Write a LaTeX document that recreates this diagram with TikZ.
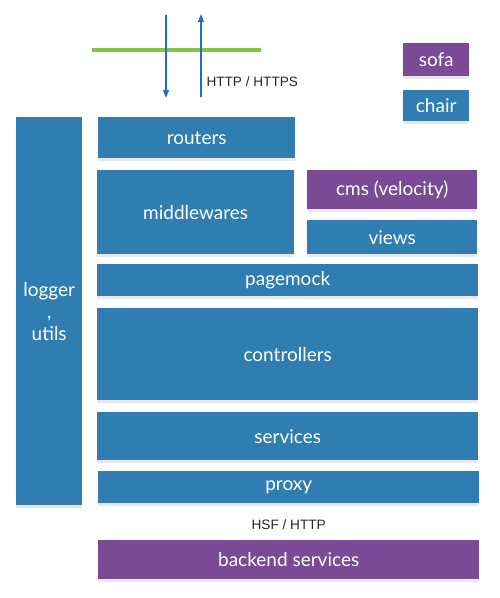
\documentclass[tikz,border=0pt]{standalone}
\usepackage{fontspec}
\setmainfont{Lato}
\newfontfamily\labelfont{Liberation Sans}
\usepackage{tikz}
\usetikzlibrary{arrows.meta, positioning, shadows}
\usepackage{xcolor}
\definecolor{layerBlue}{HTML}{2F7DB1}
\definecolor{layerPurple}{HTML}{7A4A94}
\definecolor{wireBlue}{HTML}{1F6EC2}
\definecolor{fenceGreen}{HTML}{82C343}

\tikzset{
  layer/.style={fill=layerBlue, text=white, anchor=north west, inner sep=0pt,
    font=\fontsize{19}{22}\selectfont,
    drop shadow={opacity=0.18, shadow xshift=0pt, shadow yshift=-3pt}},
  extlayer/.style={layer, fill=layerPurple},
  wire/.style={wireBlue, line width=1.4pt, -{Triangle[length=8pt,width=6pt]}},
  proto/.style={font=\labelfont\fontsize{13.6}{15}\selectfont, text=black!85}
}

\begin{document}
\begin{tikzpicture}[x=1pt, y=-1pt]
      \useasboundingbox (0,0) rectangle (500,598);
      % firewall and the request / response wires
      \coordinate (fenceL) at (92,50);
      \coordinate (fenceR) at (261,50);
      \draw[fenceGreen, line width=4pt] (fenceL) -- (fenceR);
      \coordinate (reqTop) at (166,15);
      \coordinate (reqEnd) at (166,98);
      \coordinate (resBot) at (201,97);
      \coordinate (resEnd) at (201,14);
      \draw[wire] (reqTop) -- (reqEnd);
      \draw[wire] (resBot) -- (resEnd);
      \node[proto, anchor=west] (http) at (203,82) {HTTP / HTTPS};
      % legend
      \node[extlayer, minimum width=66pt, minimum height=33pt] (sofa) at (403,43) {sofa};
      \node[layer, minimum width=66pt, minimum height=31pt] (chair) at (403,90) {chair};
      % layers
      \node[layer, minimum width=66pt, minimum height=388pt, align=center] (logger) at (16,117) {logger\\,\\utils};
      \node[layer, minimum width=197pt, minimum height=41pt] (routers) at (98,117) {routers};
      \node[layer, minimum width=197pt, minimum height=84pt] (middlewares) at (97,170) {middlewares};
      \node[extlayer, minimum width=170pt, minimum height=39pt] (cms) at (307,170) {cms (velocity)};
      \node[layer, minimum width=170pt, minimum height=34pt] (views) at (307,220) {views};
      \node[layer, minimum width=381pt, minimum height=32pt] (pagemock) at (97,264) {pagemock};
      \node[layer, minimum width=381pt, minimum height=92pt] (controllers) at (97,308) {controllers};
      \node[layer, minimum width=381pt, minimum height=48pt] (services) at (97,412) {services};
      \node[layer, minimum width=381pt, minimum height=32pt] (proxy) at (98,471) {proxy};
      \node[proto, below=13pt of proxy] (hsf) {HSF / HTTP};
      \node[extlayer, minimum width=381pt, minimum height=39pt] (backend) at (98,540) {backend services};
    \end{tikzpicture}
\end{document}
